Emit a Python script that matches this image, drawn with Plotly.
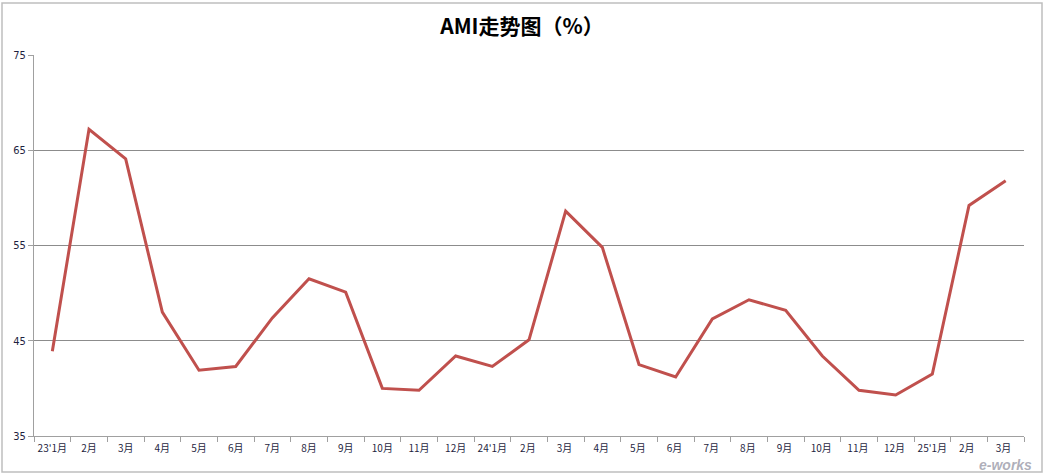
import plotly.graph_objects as go

categories = ["23'1月", "2月", "3月", "4月", "5月", "6月", "7月", "8月", "9月", "10月", "11月", "12月",
              "24'1月", "2月 ", "3月 ", "4月 ", "5月 ", "6月 ", "7月 ", "8月 ", "9月 ", "10月 ", "11月 ", "12月 ",
              "25'1月", "2月  ", "3月  "]
ami_values = [43.9, 67.2, 64.1, 48.0, 41.9, 42.3, 47.4, 51.5, 50.1, 40.0, 39.8, 43.4,
              42.3, 45.1, 58.6, 54.8, 42.5, 41.2, 47.3, 49.3, 48.2, 43.4, 39.8, 39.3,
              41.5, 59.2, 61.8]
y_ticks = [35, 45, 55, 65, 75]

fig = go.Figure()
fig.add_trace(go.Scatter(
    x=categories, y=ami_values, mode="lines",
    line=dict(color="#C0504D", width=3),
    showlegend=False, hoverinfo="x+y",
))

W, H = 1045, 476
ml, mr, mt, mb = 34, 21, 55, 40
pw, ph = W - ml - mr, H - mt - mb

def px_x(p):
    return (p - ml) / pw

def px_y(p):
    return (H - mb - p) / ph

fig.update_layout(
    width=W, height=H,
    margin=dict(l=ml, r=mr, t=mt, b=mb, autoexpand=False),
    paper_bgcolor="white", plot_bgcolor="white",
    font=dict(family="Noto Sans CJK SC, sans-serif", color="#000000"),
    title=dict(text="<b>AMI走势图（%）</b>", x=px_x(522), xanchor="center", xref="paper",
               y=1 - 27 / H, yanchor="middle",
               font=dict(size=21, color="#000000", family="Noto Sans CJK SC")),
    xaxis=dict(
        type="category", showgrid=False, showline=True, linecolor="#A0A0A0", linewidth=1,
        ticks="outside", tickson="boundaries", ticklen=5, tickcolor="#A0A0A0",
        tickangle=0, automargin=False, ticklabelstandoff=3,
        tickfont=dict(size=10, family="Noto Sans CJK SC", color="#1F1F3F"),
        range=[-0.5, len(categories) - 0.5], fixedrange=True,
    ),
    yaxis=dict(
        range=[35, 75], tickvals=y_ticks, ticktext=[str(v) for v in y_ticks],
        showgrid=True, gridcolor="#8C8C8C", gridwidth=1,
        showline=True, linecolor="#A0A0A0", linewidth=1,
        ticks="outside", ticklen=5, tickcolor="#A0A0A0", automargin=False,
        tickfont=dict(size=11, family="DejaVu Sans Condensed, DejaVu Sans", color="#1F1F3F"),
        zeroline=False, fixedrange=True,
    ),
    shapes=[dict(type="rect", xref="paper", yref="paper",
                 x0=px_x(2), x1=px_x(1042), y0=px_y(472), y1=px_y(3),
                 line=dict(color="#BEBEBE", width=1.5), fillcolor="rgba(0,0,0,0)", layer="below")],
    annotations=[dict(text="<i><b>e-works</b></i>", xref="paper", yref="paper",
                      x=px_x(1034), y=px_y(465), xanchor="right", yanchor="middle",
                      showarrow=False, font=dict(size=14, color="rgba(140,140,155,0.7)",
                                                 family="Liberation Sans"))],
)

fig.write_html("out.html", config={"displayModeBar": False},
               post_script="document.body.style.margin='0';")
